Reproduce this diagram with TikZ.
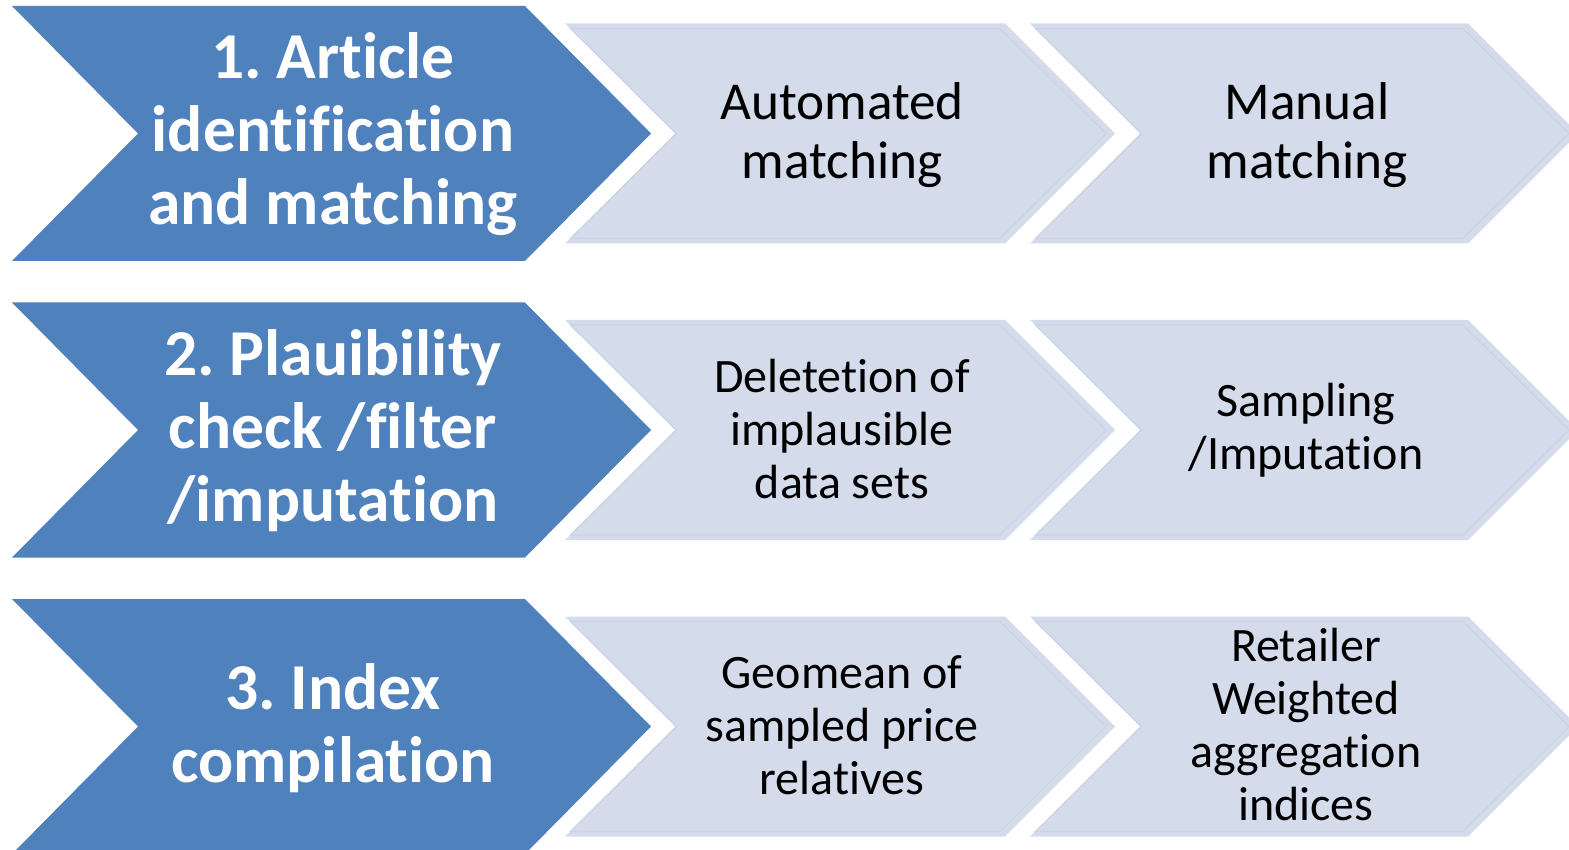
\documentclass[tikz,border=0pt]{standalone}
\usepackage{fontspec}
\setmainfont[Ligatures={NoCommon}]{Carlito}
\frenchspacing
\definecolor{stepblue}{HTML}{4F81BD}
\definecolor{steplight}{HTML}{D4DBEB}
\definecolor{stepedge}{HTML}{CBD3E7}
% chevron: #1 style, #2 left x, #3 centre y, #4 x of top-right corner, #5 half height, #6 depth of notch/point
\newcommand\chevronshape[6]{%
  \path[#1] (#2,#3-#5) -- (#4,#3-#5) -- (#4+#6,#3) -- (#4,#3+#5) -- (#2,#3+#5) -- (#2+#6,#3) -- cycle;}
\tikzset{
  phase/.style={fill=stepblue},
  task/.style={fill=steplight},
  taskrim/.style={draw=stepedge, line width=1.2pt},
  phasetext/.style={text=white, align=center, font=\bfseries\fontsize{65.5}{73}\selectfont, inner sep=0pt},
  tasktext/.style={text=black, align=center, font=\fontsize{48}{53}\selectfont, inner sep=0pt},
  bigtask/.style={tasktext, font=\fontsize{53.3}{59}\selectfont},
}
\begin{document}
\begin{tikzpicture}[x=1pt,y=-1pt]
\useasboundingbox (0,0) rectangle (1569,850);
\foreach \cy in {133.5,430,726.5}{
  \chevronshape{phase}{12}{\cy}{525}{127.5}{126}
  \chevronshape{task}{565}{\cy}{1005}{110}{110}
  \chevronshape{taskrim}{570.5}{\cy}{1000}{105}{106}
  \chevronshape{task}{1030}{\cy}{1468}{110}{110}
  \chevronshape{taskrim}{1035.5}{\cy}{1463}{105}{106}
}
% row 1
\node[phasetext] (p1) at (333,134) {1. Article\\identification\\and matching};
\node[bigtask] (a1) at (842,135) {Automated\\matching};
\node[bigtask] (m1) at (1307,135) {Manual\\matching};
% row 2
\node[phasetext] (p2) at (333,431) {2. Plauibility\\check /filter\\/imputation};
\node[tasktext] (d2) at (842,429) {Deletetion of\\implausible\\data sets};
\node[tasktext] (s2) at (1306,430) {Sampling\\/Imputation};
% row 3
\node[phasetext] (p3) at (333,728) {3. Index\\compilation};
\node[tasktext] (g3) at (842,725) {Geomean of\\sampled price\\relatives};
\node[tasktext] (r3) at (1306,725) {Retailer\\Weighted\\aggregation\\indices};
\end{tikzpicture}
\end{document}
